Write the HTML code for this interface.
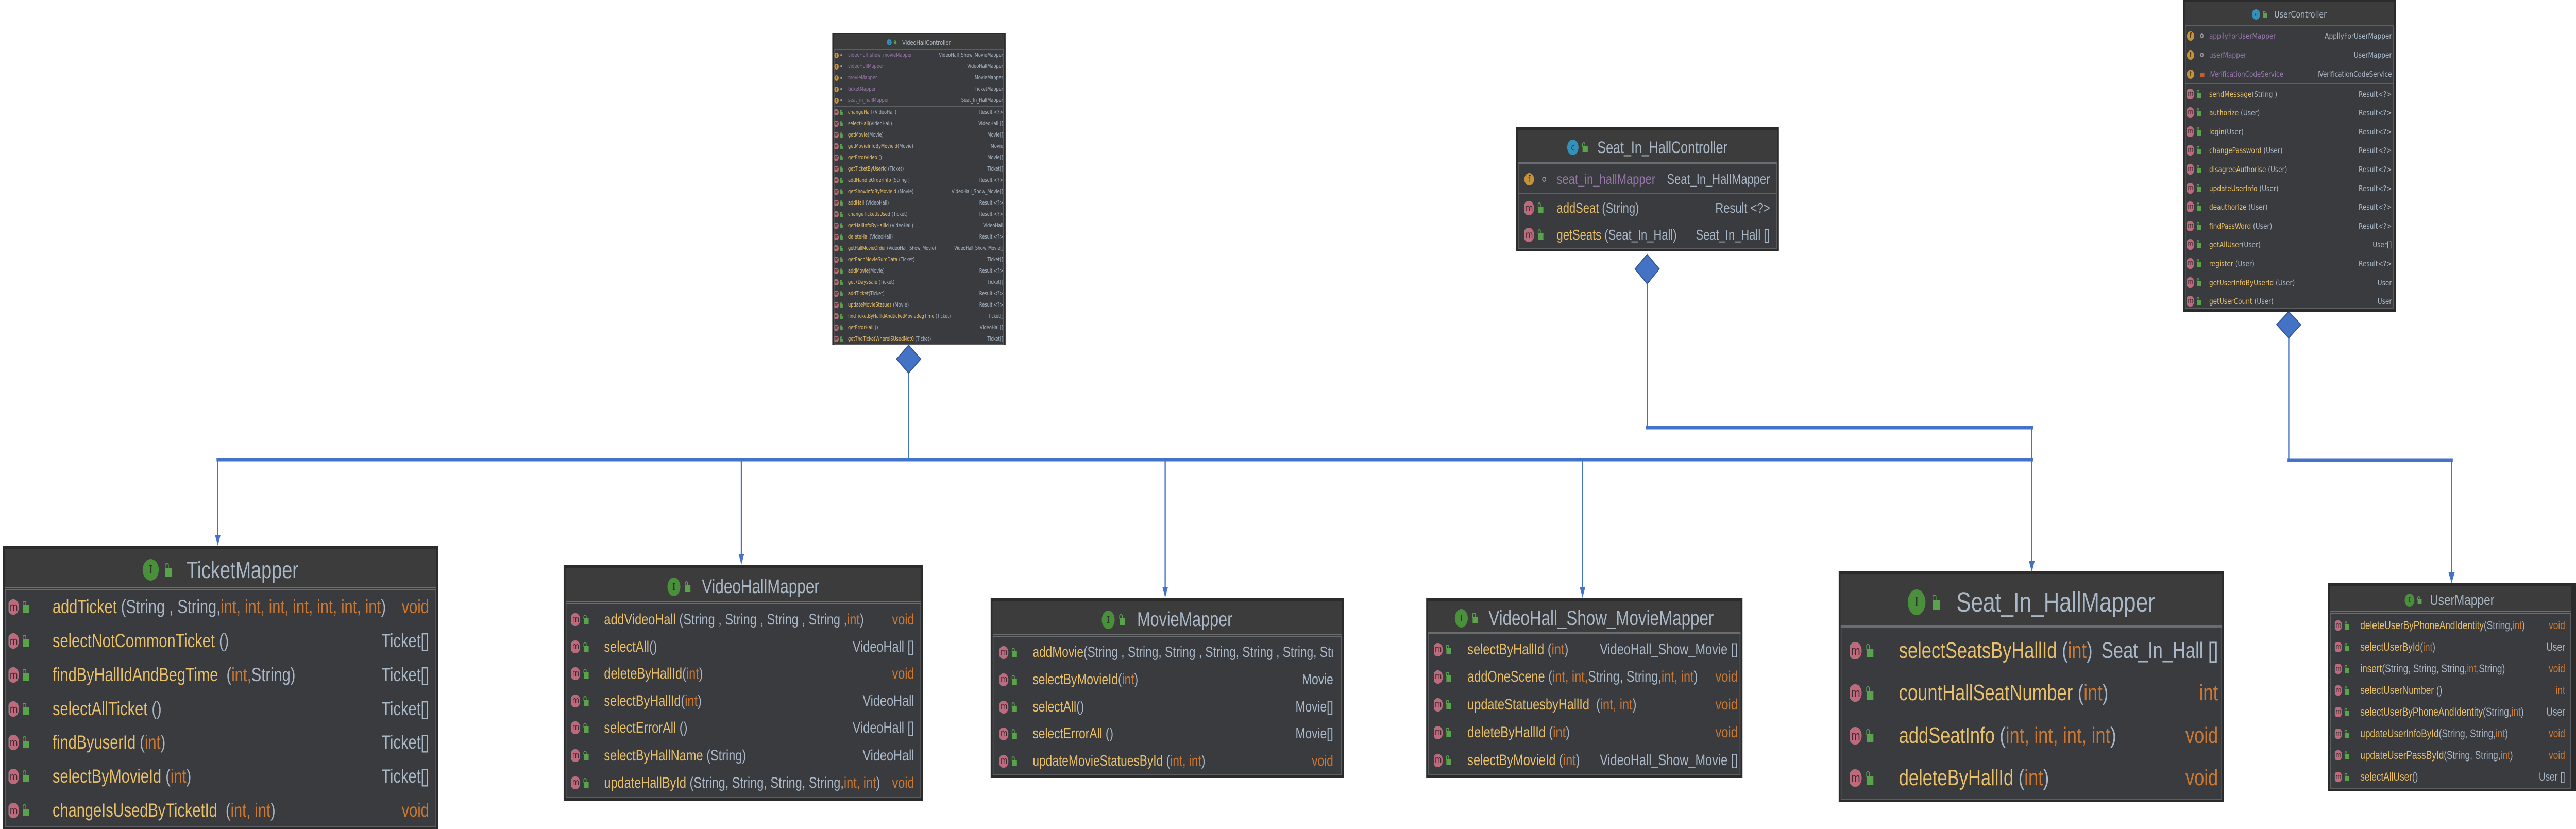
<!DOCTYPE html>
<html><head><meta charset="utf-8">
<style>
*{margin:0;padding:0;box-sizing:border-box}
html,body{width:100vw;height:100vh;overflow:hidden;background:#fff}
#stage{display:block;width:100vw;height:100vh}
#wrap{position:relative;width:6376px;height:1609px;overflow:hidden;background:#fff;font-family:"Liberation Sans",sans-serif;color:#a9b7c6}
.bx{position:absolute;background:#2b2b2b;overflow:hidden}
.fr{position:absolute;left:5px;top:6px;right:5px;bottom:5px;border:2px solid #5d6063;background:#393b3f}
.hd{position:absolute;left:5px;right:5px;top:6px;background:#3c3c3c;border-bottom:5px double #6a6d70}
.t{position:absolute;left:0;right:0;display:flex;justify-content:center;align-items:center;white-space:nowrap;color:#a9b7c6;overflow:hidden}
.r{position:absolute;display:flex;align-items:center;white-space:nowrap;overflow:hidden;font-size:var(--f)}
.ic{flex:none;width:var(--iw);display:flex;align-items:center;gap:calc(var(--m)*0.4)}
.m{display:inline-flex;align-items:center;justify-content:center;width:var(--m);height:calc(var(--m)*1.15);border-radius:50%;background:#c0687c;color:#3b2a30;font-size:calc(var(--m)*0.8);line-height:1;font-family:"DejaVu Sans",sans-serif;box-shadow:-2px 0 0 #888}
.fi{display:inline-flex;align-items:center;justify-content:center;width:var(--m);height:var(--m);border-radius:50%;background:#c4923a;color:#3b2e18;font-size:calc(var(--m)*0.75);line-height:1;font-family:"DejaVu Sans",sans-serif}
.l{display:inline-block;width:calc(var(--m)*0.55);height:calc(var(--m)*0.55);background:#59a34a;border-top:calc(var(--m)*0.1) solid transparent;position:relative;margin-top:calc(var(--m)*0.3)}
.l:before{content:"";position:absolute;left:-1px;top:calc(var(--m)*-0.4);width:calc(var(--m)*0.18);height:calc(var(--m)*0.3);border:2px solid #59a34a;border-bottom:none;border-radius:4px 4px 0 0}
.lr{display:inline-block;width:calc(var(--m)*0.55);height:calc(var(--m)*0.5);background:#c75c2e;margin-top:calc(var(--m)*0.2)}
.oc{display:inline-block;width:calc(var(--m)*0.45);height:calc(var(--m)*0.45);border:2px solid #9a9a9a;border-radius:50%}
.I{display:inline-flex;align-items:center;justify-content:center;border-radius:50%;background:#4a8f3c;color:#2a3a25;font-family:"Liberation Serif",serif;font-weight:bold}
.C{display:inline-flex;align-items:center;justify-content:center;border-radius:50%;background:#3591b8;color:#1d3a48;font-family:"DejaVu Sans",sans-serif}
.n{color:#e8bf6a}.o{color:#cc7832}.v{color:#9876aa}
em{font-style:normal;margin-left:auto;padding-left:10px;flex:none}
.sep{position:absolute;left:5px;right:5px;height:3px;background:#5d6063}
.dj{font-family:"DejaVu Sans",sans-serif}
</style></head><body>
<svg id="stage" viewBox="0 0 6376 1609" preserveAspectRatio="none" xmlns="http://www.w3.org/2000/svg">
<foreignObject x="0" y="0" width="6376" height="1609">
<div xmlns="http://www.w3.org/1999/xhtml" id="wrap">

<!-- ================= VideoHallController ================= -->
<div class="bx dj" style="left:2060px;top:64px;width:429px;height:606px;--f:10.5px;--iw:34px;--m:11px">
<div class="fr" style="top:2px;bottom:0"></div>
<div class="hd" style="top:2px;height:31px;border-bottom:2px solid #5d6063"></div>
<div class="t" style="top:4px;height:28px;font-size:12.5px;gap:6px"><span class="C" style="width:12px;height:12px;font-size:8px">c</span><span class="l" style="--m:10px"></span><span style="margin-left:8px">VideoHallController</span></div>
<div class="r" style="left:5px;width:418px;top:32px;height:22px"><span class="ic"><span class="fi">f</span><span class="oc"></span></span><span class="v">videoHall_show_movieMapper</span><em>VideoHall_Show_MovieMapper</em></div>
<div class="r" style="left:5px;width:418px;top:54px;height:22px"><span class="ic"><span class="fi">f</span><span class="oc"></span></span><span class="v">videoHallMapper</span><em>VideoHallMapper</em></div>
<div class="r" style="left:5px;width:418px;top:76px;height:22px"><span class="ic"><span class="fi">f</span><span class="oc"></span></span><span class="v">movieMapper</span><em>MovieMapper</em></div>
<div class="r" style="left:5px;width:418px;top:98px;height:22px"><span class="ic"><span class="fi">f</span><span class="oc"></span></span><span class="v">ticketMapper</span><em>TicketMapper</em></div>
<div class="r" style="left:5px;width:418px;top:120px;height:22px"><span class="ic"><span class="fi">f</span><span class="oc"></span></span><span class="v">seat_in_hallMapper</span><em>Seat_In_HallMapper</em></div>
<div class="sep" style="top:141px;height:2px"></div>
<div class="r" style="left:5px;width:418px;top:143px;height:22px"><span class="ic"><span class="m">m</span><span class="l"></span></span><span class="n">changeHall</span>&nbsp;(VideoHall)<em>Result &lt;?&gt;</em></div>
<div class="r" style="left:5px;width:418px;top:165px;height:22px"><span class="ic"><span class="m">m</span><span class="l"></span></span><span class="n">selectHall</span>(VideoHall)<em>VideoHall []</em></div>
<div class="r" style="left:5px;width:418px;top:187px;height:22px"><span class="ic"><span class="m">m</span><span class="l"></span></span><span class="n">getMovie</span>(Movie)<em>Movie[]</em></div>
<div class="r" style="left:5px;width:418px;top:209px;height:22px"><span class="ic"><span class="m">m</span><span class="l"></span></span><span class="n">getMovieInfoByMovieId</span>(Movie)<em>Movie</em></div>
<div class="r" style="left:5px;width:418px;top:231px;height:22px"><span class="ic"><span class="m">m</span><span class="l"></span></span><span class="n">getErrorVideo</span>&nbsp;()<em>Movie[]</em></div>
<div class="r" style="left:5px;width:418px;top:253px;height:22px"><span class="ic"><span class="m">m</span><span class="l"></span></span><span class="n">getTicketByUserId</span>&nbsp;(Ticket)<em>Ticket[]</em></div>
<div class="r" style="left:5px;width:418px;top:275px;height:22px"><span class="ic"><span class="m">m</span><span class="l"></span></span><span class="n">addHandleOrderInfo</span>&nbsp;(String )<em>Result &lt;?&gt;</em></div>
<div class="r" style="left:5px;width:418px;top:297px;height:22px"><span class="ic"><span class="m">m</span><span class="l"></span></span><span class="n">getShowInfoByMovieId</span>&nbsp;(Movie)<em>VideoHall_Show_Movie[]</em></div>
<div class="r" style="left:5px;width:418px;top:319px;height:22px"><span class="ic"><span class="m">m</span><span class="l"></span></span><span class="n">addHall</span>&nbsp;(VideoHall)<em>Result &lt;?&gt;</em></div>
<div class="r" style="left:5px;width:418px;top:341px;height:22px"><span class="ic"><span class="m">m</span><span class="l"></span></span><span class="n">changeTicketIsUsed</span>&nbsp;(Ticket)<em>Result &lt;?&gt;</em></div>
<div class="r" style="left:5px;width:418px;top:363px;height:22px"><span class="ic"><span class="m">m</span><span class="l"></span></span><span class="n">getHallInfoByHallId</span>&nbsp;(VideoHall)<em>VideoHall</em></div>
<div class="r" style="left:5px;width:418px;top:385px;height:22px"><span class="ic"><span class="m">m</span><span class="l"></span></span><span class="n">deleteHall</span>(VideoHall)<em>Result &lt;?&gt;</em></div>
<div class="r" style="left:5px;width:418px;top:407px;height:22px;letter-spacing:-0.3px"><span class="ic"><span class="m">m</span><span class="l"></span></span><span class="n">getHallMovieOrder</span>&nbsp;(VideoHall_Show_Movie)<em style="padding-left:4px">VideoHall_Show_Movie[]</em></div>
<div class="r" style="left:5px;width:418px;top:429px;height:22px"><span class="ic"><span class="m">m</span><span class="l"></span></span><span class="n">getEachMovieSumData</span>&nbsp;(Ticket)<em>Ticket[]</em></div>
<div class="r" style="left:5px;width:418px;top:451px;height:22px"><span class="ic"><span class="m">m</span><span class="l"></span></span><span class="n">addMovie</span>(Movie)<em>Result &lt;?&gt;</em></div>
<div class="r" style="left:5px;width:418px;top:473px;height:22px"><span class="ic"><span class="m">m</span><span class="l"></span></span><span class="n">get7DaysSale</span>&nbsp;(Ticket)<em>Ticket[]</em></div>
<div class="r" style="left:5px;width:418px;top:495px;height:22px"><span class="ic"><span class="m">m</span><span class="l"></span></span><span class="n">addTicket</span>(Ticket)<em>Result &lt;?&gt;</em></div>
<div class="r" style="left:5px;width:418px;top:517px;height:22px"><span class="ic"><span class="m">m</span><span class="l"></span></span><span class="n">updateMovieStatues</span>&nbsp;(Movie)<em>Result &lt;?&gt;</em></div>
<div class="r" style="left:5px;width:418px;top:539px;height:22px;letter-spacing:-0.2px"><span class="ic"><span class="m">m</span><span class="l"></span></span><span class="n">findTicketByHallIdAndticketMovieBegTime</span>&nbsp;(Ticket)<em>Ticket[]</em></div>
<div class="r" style="left:5px;width:418px;top:561px;height:22px"><span class="ic"><span class="m">m</span><span class="l"></span></span><span class="n">getErrorHall</span>&nbsp;()<em>VideoHall[]</em></div>
<div class="r" style="left:5px;width:418px;top:583px;height:22px"><span class="ic"><span class="m">m</span><span class="l"></span></span><span class="n">getTheTicketWhereISUsedNot0</span>&nbsp;(Ticket)<em>Ticket[]</em></div>
</div>

<!-- ================= Seat_In_HallController ================= -->
<div class="bx" style="left:3752px;top:246px;width:651px;height:242px;--f:28px;--iw:80px;--m:24px">
<div class="fr"></div>
<div class="hd" style="height:67px"></div>
<div class="t" style="top:8px;height:64px;font-size:32px;gap:10px"><span class="C" style="width:28px;height:30px;font-size:18px">c</span><span class="l" style="--m:22px"></span><span style="margin-left:14px">Seat_In_HallController</span></div>
<div class="r" style="left:21px;width:608px;top:75px;height:54px"><span class="ic"><span class="fi">f</span><span class="oc" style="margin-left:10px"></span></span><span class="v">seat_in_hallMapper</span><em>Seat_In_HallMapper</em></div>
<div class="sep" style="top:128px"></div>
<div class="r" style="left:21px;width:608px;top:131px;height:54px"><span class="ic"><span class="m">m</span><span class="l"></span></span><span class="n">addSeat</span>&nbsp;(String)<em>Result &lt;?&gt;</em></div>
<div class="r" style="left:21px;width:608px;top:183px;height:54px"><span class="ic"><span class="m">m</span><span class="l"></span></span><span class="n">getSeats</span>&nbsp;(Seat_In_Hall)<em>Seat_In_Hall []</em></div>
</div>

<!-- ================= UserController ================= -->
<div class="bx dj" style="left:5403px;top:0px;width:527px;height:605px;--f:15.5px;--iw:55px;--m:18px">
<div class="fr" style="top:3px"></div>
<div class="hd" style="top:3px;height:48px;border-bottom:2px solid #5d6063"></div>
<div class="t" style="top:6px;height:44px;font-size:18px;gap:8px"><span class="C" style="width:20px;height:20px;font-size:12px">c</span><span class="l" style="--m:16px"></span><span style="margin-left:10px">UserController</span></div>
<div class="r" style="left:10px;width:507px;top:51px;height:37px"><span class="ic"><span class="fi">f</span><span class="oc" style="margin-left:8px"></span></span><span class="v">appllyForUserMapper</span><em>AppllyForUserMapper</em></div>
<div class="r" style="left:10px;width:507px;top:88px;height:37px"><span class="ic"><span class="fi">f</span><span class="oc" style="margin-left:8px"></span></span><span class="v">userMapper</span><em>UserMapper</em></div>
<div class="r" style="left:10px;width:507px;top:125px;height:37px;letter-spacing:-0.2px"><span class="ic"><span class="fi">f</span><span class="lr" style="margin-left:8px"></span></span><span class="v">iVerificationCodeService</span><em>IVerificationCodeService</em></div>
<div class="sep" style="top:161px;height:2px"></div>
<div class="r" style="left:10px;width:507px;top:164px;height:37px"><span class="ic"><span class="m">m</span><span class="l"></span></span><span class="n">sendMessage</span>(String )<em>Result&lt;?&gt;</em></div>
<div class="r" style="left:10px;width:507px;top:200px;height:37px"><span class="ic"><span class="m">m</span><span class="l"></span></span><span class="n">authorize</span>&nbsp;(User)<em>Result&lt;?&gt;</em></div>
<div class="r" style="left:10px;width:507px;top:237px;height:37px"><span class="ic"><span class="m">m</span><span class="l"></span></span><span class="n">login</span>(User)<em>Result&lt;?&gt;</em></div>
<div class="r" style="left:10px;width:507px;top:273px;height:37px"><span class="ic"><span class="m">m</span><span class="l"></span></span><span class="n">changePassword</span>&nbsp;(User)<em>Result&lt;?&gt;</em></div>
<div class="r" style="left:10px;width:507px;top:310px;height:37px"><span class="ic"><span class="m">m</span><span class="l"></span></span><span class="n">disagreeAuthorise</span>&nbsp;(User)<em>Result&lt;?&gt;</em></div>
<div class="r" style="left:10px;width:507px;top:347px;height:37px"><span class="ic"><span class="m">m</span><span class="l"></span></span><span class="n">updateUserInfo</span>&nbsp;(User)<em>Result&lt;?&gt;</em></div>
<div class="r" style="left:10px;width:507px;top:383px;height:37px"><span class="ic"><span class="m">m</span><span class="l"></span></span><span class="n">deauthorize</span>&nbsp;(User)<em>Result&lt;?&gt;</em></div>
<div class="r" style="left:10px;width:507px;top:420px;height:37px"><span class="ic"><span class="m">m</span><span class="l"></span></span><span class="n">findPassWord</span>&nbsp;(User)<em>Result&lt;?&gt;</em></div>
<div class="r" style="left:10px;width:507px;top:456px;height:37px"><span class="ic"><span class="m">m</span><span class="l"></span></span><span class="n">getAllUser</span>(User)<em>User[]</em></div>
<div class="r" style="left:10px;width:507px;top:493px;height:37px"><span class="ic"><span class="m">m</span><span class="l"></span></span><span class="n">register</span>&nbsp;(User)<em>Result&lt;?&gt;</em></div>
<div class="r" style="left:10px;width:507px;top:530px;height:37px"><span class="ic"><span class="m">m</span><span class="l"></span></span><span class="n">getUserInfoByUserId</span>&nbsp;(User)<em>User</em></div>
<div class="r" style="left:10px;width:507px;top:566px;height:37px"><span class="ic"><span class="m">m</span><span class="l"></span></span><span class="n">getUserCount</span>&nbsp;(User)<em>User</em></div>
</div>

<!-- ================= TicketMapper ================= -->
<div class="bx" style="left:7px;top:1059px;width:1078px;height:550px;--f:37px;--iw:109px;--m:26px">
<div class="fr" style="bottom:4px"></div>
<div class="hd" style="height:80px"></div>
<div class="t" style="top:8px;height:78px;font-size:46px;gap:16px"><span class="I" style="width:40px;height:42px;font-size:24px">I</span><span class="l" style="--m:30px"></span><span style="margin-left:20px">TicketMapper</span></div>
<div class="r" style="left:14px;width:1041px;top:86px;height:66px"><span class="ic"><span class="m">m</span><span class="l"></span></span><span class="n">addTicket</span>&nbsp;(String , String, <span class="o">int, int, int, int, int, int, int</span>)<em class="o">void</em></div>
<div class="r" style="left:14px;width:1041px;top:152px;height:66px"><span class="ic"><span class="m">m</span><span class="l"></span></span><span class="n">selectNotCommonTicket</span>&nbsp;()<em>Ticket[]</em></div>
<div class="r" style="left:14px;width:1041px;top:218px;height:66px"><span class="ic"><span class="m">m</span><span class="l"></span></span><span class="n">findByHallIdAndBegTime</span>&nbsp;&nbsp;(<span class="o">int,</span> String)<em>Ticket[]</em></div>
<div class="r" style="left:14px;width:1041px;top:284px;height:66px"><span class="ic"><span class="m">m</span><span class="l"></span></span><span class="n">selectAllTicket</span>&nbsp;()<em>Ticket[]</em></div>
<div class="r" style="left:14px;width:1041px;top:349px;height:66px"><span class="ic"><span class="m">m</span><span class="l"></span></span><span class="n">findByuserId</span>&nbsp;(<span class="o">int</span>)<em>Ticket[]</em></div>
<div class="r" style="left:14px;width:1041px;top:415px;height:66px"><span class="ic"><span class="m">m</span><span class="l"></span></span><span class="n">selectByMovieId</span>&nbsp;(<span class="o">int</span>)<em>Ticket[]</em></div>
<div class="r" style="left:14px;width:1041px;top:481px;height:66px"><span class="ic"><span class="m">m</span><span class="l"></span></span><span class="n">changeIsUsedByTicketId</span>&nbsp;&nbsp;(<span class="o">int, int</span>)<em class="o">void</em></div>
</div>

<!-- ================= VideoHallMapper ================= -->
<div class="bx" style="left:1395px;top:1096px;width:890px;height:458px;--f:30px;--iw:81px;--m:22px">
<div class="fr"></div>
<div class="hd" style="height:70px"></div>
<div class="t" style="top:8px;height:70px;font-size:38px;gap:12px"><span class="I" style="width:32px;height:36px;font-size:20px">I</span><span class="l" style="--m:24px"></span><span style="margin-left:16px">VideoHallMapper</span></div>
<div class="r" style="left:19px;width:849px;top:80px;height:53px"><span class="ic"><span class="m">m</span><span class="l"></span></span><span class="n">addVideoHall</span>&nbsp;(String , String , String , String , <span class="o">int</span>)<em class="o">void</em></div>
<div class="r" style="left:19px;width:849px;top:133px;height:53px"><span class="ic"><span class="m">m</span><span class="l"></span></span><span class="n">selectAll</span>()<em>VideoHall []</em></div>
<div class="r" style="left:19px;width:849px;top:185px;height:53px"><span class="ic"><span class="m">m</span><span class="l"></span></span><span class="n">deleteByHallId</span>(<span class="o">int</span>)<em class="o">void</em></div>
<div class="r" style="left:19px;width:849px;top:238px;height:53px"><span class="ic"><span class="m">m</span><span class="l"></span></span><span class="n">selectByHallId</span>(<span class="o">int</span>)<em>VideoHall</em></div>
<div class="r" style="left:19px;width:849px;top:290px;height:53px"><span class="ic"><span class="m">m</span><span class="l"></span></span><span class="n">selectErrorAll</span>&nbsp;()<em>VideoHall []</em></div>
<div class="r" style="left:19px;width:849px;top:344px;height:53px"><span class="ic"><span class="m">m</span><span class="l"></span></span><span class="n">selectByHallName</span>&nbsp;(String)<em>VideoHall</em></div>
<div class="r" style="left:19px;width:849px;top:397px;height:53px"><span class="ic"><span class="m">m</span><span class="l"></span></span><span class="n">updateHallById</span>&nbsp;(String, String, String, String, <span class="o">int, int</span>)<em class="o">void</em></div>
</div>

<!-- ================= MovieMapper ================= -->
<div class="bx" style="left:2452px;top:1160px;width:874px;height:350px;--f:29px;--iw:82px;--m:22px">
<div class="fr"></div>
<div class="hd" style="height:70px"></div>
<div class="t" style="top:8px;height:70px;font-size:39px;gap:12px"><span class="I" style="width:32px;height:36px;font-size:20px">I</span><span class="l" style="--m:24px"></span><span style="margin-left:18px">MovieMapper</span></div>
<div class="r" style="left:22px;width:826px;top:80px;height:53px"><span class="ic"><span class="m">m</span><span class="l"></span></span><span class="n">addMovie</span>(String , String, String , String, String , String, Stri</div>
<div class="r" style="left:22px;width:826px;top:133px;height:53px"><span class="ic"><span class="m">m</span><span class="l"></span></span><span class="n">selectByMovieId</span>(<span class="o">int</span>)<em>Movie</em></div>
<div class="r" style="left:22px;width:826px;top:186px;height:53px"><span class="ic"><span class="m">m</span><span class="l"></span></span><span class="n">selectAll</span>()<em>Movie[]</em></div>
<div class="r" style="left:22px;width:826px;top:238px;height:53px"><span class="ic"><span class="m">m</span><span class="l"></span></span><span class="n">selectErrorAll</span>&nbsp;()<em>Movie[]</em></div>
<div class="r" style="left:22px;width:826px;top:291px;height:53px"><span class="ic"><span class="m">m</span><span class="l"></span></span><span class="n">updateMovieStatuesById</span>&nbsp;(<span class="o">int, int</span>)<em class="o">void</em></div>
</div>

<!-- ================= VideoHall_Show_MovieMapper ================= -->
<div class="bx" style="left:3530px;top:1160px;width:783px;height:350px;--f:30px;--iw:83px;--m:22px">
<div class="fr"></div>
<div class="hd" style="height:65px"></div>
<div class="t" style="top:8px;height:64px;font-size:40px;gap:12px"><span class="I" style="width:32px;height:36px;font-size:20px">I</span><span class="l" style="--m:24px"></span><span style="margin-left:14px">VideoHall_Show_MovieMapper</span></div>
<div class="r" style="left:19px;width:752px;top:74px;height:54px"><span class="ic"><span class="m">m</span><span class="l"></span></span><span class="n">selectByHallId</span>&nbsp;(<span class="o">int</span>)<em>VideoHall_Show_Movie []</em></div>
<div class="r" style="left:19px;width:752px;top:127px;height:54px"><span class="ic"><span class="m">m</span><span class="l"></span></span><span class="n">addOneScene</span>&nbsp;(<span class="o">int, int,</span> String, String, <span class="o">int, int</span>)<em class="o">void</em></div>
<div class="r" style="left:19px;width:752px;top:181px;height:54px"><span class="ic"><span class="m">m</span><span class="l"></span></span><span class="n">updateStatuesbyHallId</span>&nbsp;&nbsp;(<span class="o">int, int</span>)<em class="o">void</em></div>
<div class="r" style="left:19px;width:752px;top:235px;height:54px"><span class="ic"><span class="m">m</span><span class="l"></span></span><span class="n">deleteByHallId</span>&nbsp;(<span class="o">int</span>)<em class="o">void</em></div>
<div class="r" style="left:19px;width:752px;top:289px;height:54px"><span class="ic"><span class="m">m</span><span class="l"></span></span><span class="n">selectByMovieId</span>&nbsp;(<span class="o">int</span>)<em>VideoHall_Show_Movie []</em></div>
</div>

<!-- ================= Seat_In_HallMapper ================= -->
<div class="bx" style="left:4551px;top:1109px;width:954px;height:448px;--f:44px;--iw:122px;--m:30px">
<div class="fr"></div>
<div class="hd" style="height:104px"></div>
<div class="t" style="top:8px;height:104px;font-size:54px;gap:18px"><span class="I" style="width:44px;height:50px;font-size:28px">I</span><span class="l" style="--m:34px"></span><span style="margin-left:22px">Seat_In_HallMapper</span></div>
<div class="r" style="left:27px;width:912px;top:113px;height:82px"><span class="ic"><span class="m">m</span><span class="l"></span></span><span class="n">selectSeatsByHallId</span>&nbsp;(<span class="o">int</span>)<em>Seat_In_Hall []</em></div>
<div class="r" style="left:27px;width:912px;top:195px;height:82px"><span class="ic"><span class="m">m</span><span class="l"></span></span><span class="n">countHallSeatNumber</span>&nbsp;(<span class="o">int</span>)<em class="o">int</em></div>
<div class="r" style="left:27px;width:912px;top:278px;height:82px"><span class="ic"><span class="m">m</span><span class="l"></span></span><span class="n">addSeatInfo</span>&nbsp;(<span class="o">int, int, int, int</span>)<em class="o">void</em></div>
<div class="r" style="left:27px;width:912px;top:360px;height:82px"><span class="ic"><span class="m">m</span><span class="l"></span></span><span class="n">deleteByHallId</span>&nbsp;(<span class="o">int</span>)<em class="o">void</em></div>
</div>

<!-- ================= UserMapper ================= -->
<div class="bx" style="left:5762px;top:1131px;width:614px;height:405px;--f:22px;--iw:63px;--m:18px">
<div class="fr" style="right:12px"></div>
<div class="hd" style="height:54px;right:12px"></div>
<div class="t" style="top:6px;height:56px;font-size:29px;gap:8px;right:12px"><span class="I" style="width:24px;height:26px;font-size:14px">I</span><span class="l" style="--m:18px"></span><span style="margin-left:12px">UserMapper</span></div>
<div class="r" style="left:17px;width:570px;top:62px;height:42px"><span class="ic"><span class="m">m</span><span class="l"></span></span><span class="n">deleteUserByPhoneAndIdentity</span>(String, <span class="o">int</span>)<em class="o">void</em></div>
<div class="r" style="left:17px;width:570px;top:104px;height:42px"><span class="ic"><span class="m">m</span><span class="l"></span></span><span class="n">selectUserById</span>(<span class="o">int</span>)<em>User</em></div>
<div class="r" style="left:17px;width:570px;top:146px;height:42px"><span class="ic"><span class="m">m</span><span class="l"></span></span><span class="n">insert</span>(String, String, String, <span class="o">int,</span> String)<em class="o">void</em></div>
<div class="r" style="left:17px;width:570px;top:188px;height:42px"><span class="ic"><span class="m">m</span><span class="l"></span></span><span class="n">selectUserNumber</span>&nbsp;()<em class="o">int</em></div>
<div class="r" style="left:17px;width:570px;top:230px;height:42px"><span class="ic"><span class="m">m</span><span class="l"></span></span><span class="n">selectUserByPhoneAndIdentity</span>(String, <span class="o">int</span>)<em>User</em></div>
<div class="r" style="left:17px;width:570px;top:272px;height:42px"><span class="ic"><span class="m">m</span><span class="l"></span></span><span class="n">updateUserInfoById</span>(String, String, <span class="o">int</span>)<em class="o">void</em></div>
<div class="r" style="left:17px;width:570px;top:314px;height:42px"><span class="ic"><span class="m">m</span><span class="l"></span></span><span class="n">updateUserPassById</span>(String, String, <span class="o">int</span>)<em class="o">void</em></div>
<div class="r" style="left:17px;width:570px;top:356px;height:42px"><span class="ic"><span class="m">m</span><span class="l"></span></span><span class="n">selectAllUser</span>()<em>User []</em></div>
</div>

</div>
</foreignObject>

<!-- ================= Connectors ================= -->
<g stroke="#4472C4" fill="none">
<line x1="2249" y1="724" x2="2249" y2="892" stroke-width="3"/>
<line x1="536" y1="892" x2="5032" y2="892" stroke-width="7"/>
<line x1="539" y1="892" x2="539" y2="1045" stroke-width="3"/>
<line x1="1835" y1="892" x2="1835" y2="1082" stroke-width="3"/>
<line x1="2884" y1="892" x2="2884" y2="1145" stroke-width="3"/>
<line x1="3917" y1="892" x2="3917" y2="1145" stroke-width="3"/>
<line x1="4077" y1="551" x2="4077" y2="830" stroke-width="3"/>
<line x1="4074" y1="830" x2="5032" y2="830" stroke-width="7"/>
<line x1="5029" y1="830" x2="5029" y2="1096" stroke-width="3"/>
<line x1="5665" y1="656" x2="5665" y2="893" stroke-width="3"/>
<line x1="5662" y1="893" x2="6071" y2="893" stroke-width="7"/>
<line x1="6068" y1="893" x2="6068" y2="1118" stroke-width="3"/>
</g>
<g fill="#4472C4">
<polygon points="532,1038 546,1038 539,1059"/>
<polygon points="1828,1075 1842,1075 1835,1096"/>
<polygon points="2877,1139 2891,1139 2884,1160"/>
<polygon points="3910,1139 3924,1139 3917,1160"/>
<polygon points="5022,1089 5036,1089 5029,1110"/>
<polygon points="6060,1110 6076,1110 6068,1132"/>
</g>
<g fill="#4472C4" stroke="#2f528f" stroke-width="2">
<polygon points="2249,670 2279,697 2249,724 2219,697"/>
<polygon points="4077,494 4107,522 4077,551 4047,522"/>
<polygon points="5665,605 5695,630 5665,656 5635,630"/>
</g>
</svg>
</body></html>
